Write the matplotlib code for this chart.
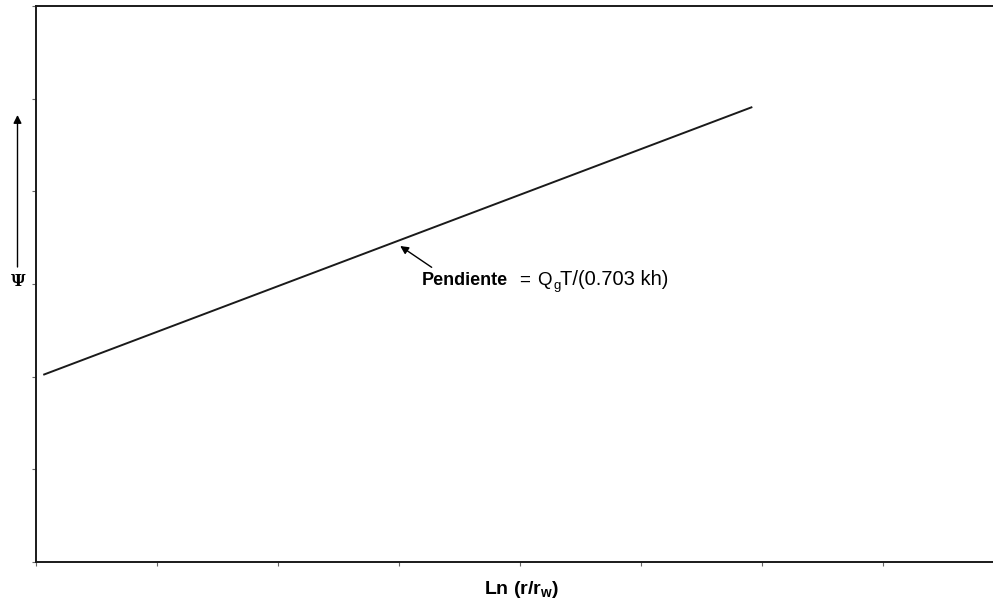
import matplotlib
matplotlib.use("Agg")
import matplotlib.pyplot as plt
from matplotlib.patches import FancyArrowPatch

# Straight-line relation of pseudo-potential vs. ln(r/rw)
line_x = [0.06, 5.92]
line_y = [2.02, 4.91]

x_ticks = [0, 1, 2, 3, 4, 5, 6, 7]
y_ticks = [0, 1, 2, 3, 4, 5, 6]

slope_word = "Pendiente"
slope_parts = ["=", "Q", "g", "T/(0.703 kh)"]
x_label = "Ln (r/r$_\\mathregular{w}$)"
y_label = "Ψ"

W, H = 993, 603
fig = plt.figure(figsize=(W / 100, H / 100), dpi=100)
ax = fig.add_axes([36 / W, (H - 562) / H, (W - 36) / W, (562 - 6) / H])

ax.plot(line_x, line_y, color="#1a1a1a", lw=1.4, solid_capstyle="butt")

ax.set_xlim(0, (W - 36) / 121)
ax.set_ylim(0, 6)
ax.set_xticks(x_ticks)
ax.set_yticks(y_ticks)
ax.set_xticklabels([])
ax.set_yticklabels([])
ax.tick_params(direction="out", length=3, width=0.8, color="#666666")
for s in ["left", "bottom", "top"]:
    ax.spines[s].set_linewidth(1.4)
    ax.spines[s].set_color("#1a1a1a")
ax.spines["right"].set_visible(False)

sans = ["Liberation Sans", "DejaVu Sans"]

# slope annotation
ax.annotate("", xy=(3.01, 3.41), xytext=(3.27, 3.18),
            arrowprops=dict(arrowstyle="-|>", color="black", lw=1.0,
                            mutation_scale=12, shrinkA=0, shrinkB=0))

def px(x, y):
    return x / W, 1 - y / H

base = 285
fig.text(*px(422, base), slope_word, family=sans, fontsize=13,
         fontweight="bold", va="baseline")
fig.text(*px(519, base), slope_parts[0], family=sans, fontsize=13.5, va="baseline")
fig.text(*px(537, base), slope_parts[1], family=sans, fontsize=13.5, va="baseline")
fig.text(*px(553, base + 4), slope_parts[2], family=sans, fontsize=9.5, va="baseline")
fig.text(*px(560, base), slope_parts[3], family=sans, fontsize=14.5, va="baseline")

# y-axis label with upward arrow
fig.text(*px(18, 281), y_label, family=["DejaVu Serif"], fontsize=11.5,
         ha="center", va="center", fontweight="bold")
fig.add_artist(FancyArrowPatch(
    px(17.5, 267), px(17.5, 115), transform=fig.transFigure,
    arrowstyle="-|>", mutation_scale=12, color="black", lw=1.0,
    shrinkA=0, shrinkB=0))

fig.text(*px(522, 594), x_label, family=sans, fontsize=14,
         fontweight="bold", ha="center", va="baseline")

fig.savefig("out.png", dpi=100, facecolor="white")
